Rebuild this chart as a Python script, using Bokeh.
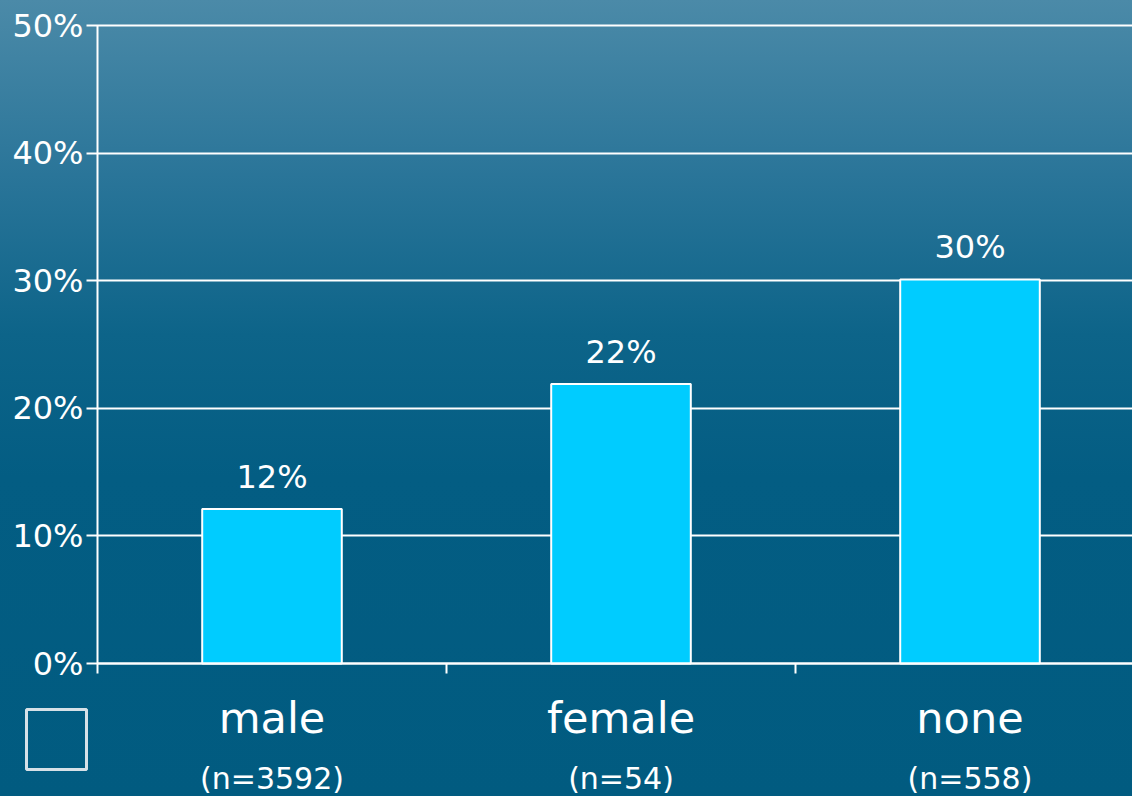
from bokeh.plotting import figure
from bokeh.models import (ColumnDataSource, FixedTicker, LinearAxis, NumeralTickFormatter,
                          Range1d, BoxAnnotation)
from bokeh.core.properties import value
from bokeh.embed import file_html
from bokeh.resources import INLINE

# ---- data ----
categories = ["male", "female", "none"]
sample_sizes = ["(n=3592)", "(n=54)", "(n=558)"]
shares = [0.121, 0.219, 0.301]
share_labels = ["12%", "22%", "30%"]
y_ticks = [0.0, 0.1, 0.2, 0.3, 0.4, 0.5]

FONT = "DejaVu Sans"
WHITE = "#ffffff"
W, H = 1132, 796

xs = list(range(len(categories)))
separators = [x - 0.5 for x in xs] + [xs[-1] + 0.5]
src = ColumnDataSource(dict(x=xs, share=shares, label=share_labels))

# layout of the drawing area (pixels): the frame covers the whole canvas
axis_left_px, axis_bottom_px, top_px = 97, 663, 25
px_per_cat = 349.0
px_per_unit_y = (axis_bottom_px - top_px) / y_ticks[-1]
x_start = -0.5 - axis_left_px / px_per_cat
y_start = -(H - axis_bottom_px) / px_per_unit_y

p = figure(width=W, height=H, output_backend="svg", toolbar_location=None, title=None,
           x_axis_type=None, y_axis_type=None,
           x_range=Range1d(x_start, x_start + W / px_per_cat),
           y_range=Range1d(y_start, y_start + H / px_per_unit_y),
           min_border=0, min_border_left=0, min_border_right=0, min_border_top=0,
           min_border_bottom=0, outline_line_color=None)

p.background_fill_alpha = 0
p.border_fill_alpha = 0
p.styles = {"background": "linear-gradient(to bottom, #4b8aa8 0%, #2a7599 22%, #0d6489 42%, #035d83 60%, #015b80 100%)"}

# y axis with ticks reaching across the plot (grid lines), drawn beneath the bars
ya = LinearAxis(ticker=FixedTicker(ticks=y_ticks), formatter=NumeralTickFormatter(format="0%"),
                fixed_location=-0.5, bounds=(y_ticks[0], y_ticks[-1]), level="underlay")
ya.axis_line_color = WHITE
ya.axis_line_width = 2
ya.major_tick_line_color = WHITE
ya.major_tick_line_width = 2
ya.major_tick_out = 11
ya.major_tick_in = W - axis_left_px
ya.minor_tick_line_color = None
ya.major_label_text_color = WHITE
ya.major_label_text_font = FONT
ya.major_label_text_font_size = "32px"
ya.major_label_standoff = 3
p.add_layout(ya, "left")

# bars
p.vbar(x="x", top="share", width=0.4, source=src, fill_color="#00ccff",
       line_color=WHITE, line_width=2)
p.text(x="x", y="share", text="label", source=src, text_align="center",
       text_baseline="alphabetic", y_offset=-32, text_color=WHITE,
       text_font=value(FONT), text_font_size="32px")

# x axis: line, separator ticks (minor) and category names (major)
xa = LinearAxis(ticker=FixedTicker(ticks=xs, minor_ticks=separators),
                major_label_overrides={i: c for i, c in zip(xs, categories)},
                fixed_location=0, bounds=(-0.5, 3.0))
xa.axis_line_color = WHITE
xa.axis_line_width = 2
xa.major_tick_line_color = None
xa.major_tick_out = 0
xa.major_tick_in = 0
xa.minor_tick_line_color = WHITE
xa.minor_tick_line_width = 2
xa.minor_tick_out = 10
xa.minor_tick_in = 0
xa.major_label_text_color = WHITE
xa.major_label_text_font = FONT
xa.major_label_text_font_size = "43px"
xa.major_label_standoff = 19
p.add_layout(xa, "below")

# sample sizes
n_axis = LinearAxis(ticker=FixedTicker(ticks=xs),
                    major_label_overrides={i: s for i, s in zip(xs, sample_sizes)},
                    fixed_location=0)
n_axis.axis_line_color = None
n_axis.major_tick_line_color = None
n_axis.minor_tick_line_color = None
n_axis.major_tick_out = 0
n_axis.major_label_text_color = WHITE
n_axis.major_label_text_font = FONT
n_axis.major_label_text_font_size = "30px"
n_axis.major_label_standoff = 97
p.add_layout(n_axis, "below")

# empty legend swatch (bottom-left)
p.add_layout(BoxAnnotation(left=26, right=86, top=709, bottom=769,
                           left_units="canvas", right_units="canvas",
                           top_units="canvas", bottom_units="canvas",
                           fill_alpha=0, line_color="#e2e8ec", line_width=3,
                           line_alpha=0.95))

open("out.html", "w").write(file_html(p, INLINE))
